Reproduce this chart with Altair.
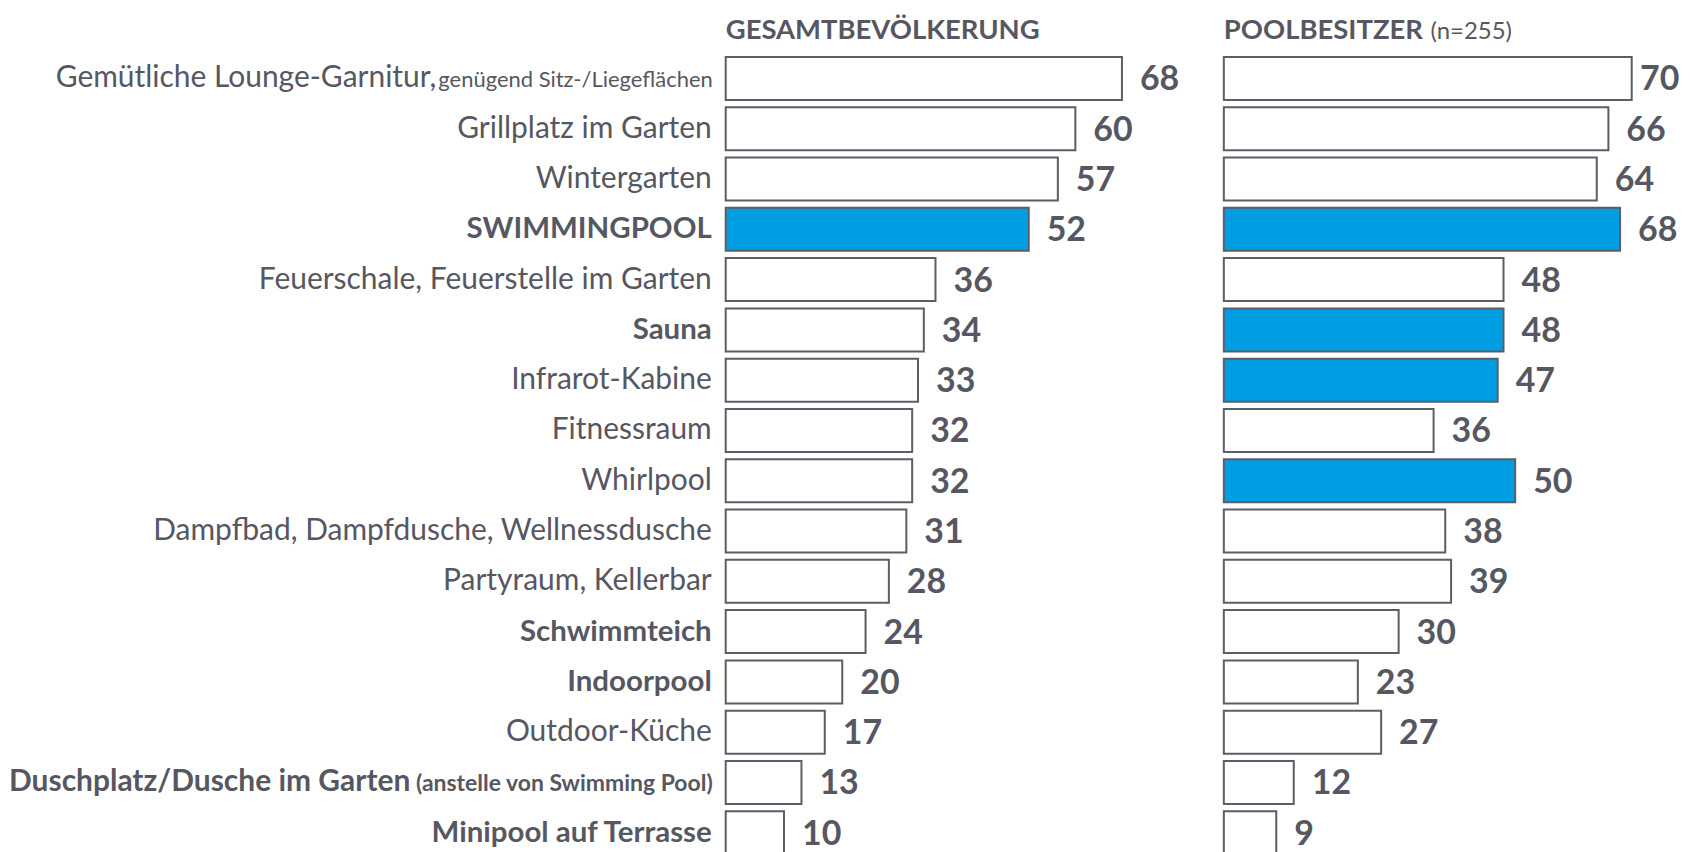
import altair as alt
import pandas as pd

# ---- data -------------------------------------------------------------
items = [
    "Gemütliche Lounge-Garnitur,",
    "Grillplatz im Garten",
    "Wintergarten",
    "SWIMMINGPOOL",
    "Feuerschale, Feuerstelle im Garten",
    "Sauna",
    "Infrarot-Kabine",
    "Fitnessraum\u2002",
    "Whirlpool",
    "Dampfbad, Dampfdusche, Wellnessdusche",
    "Partyraum, Kellerbar",
    "Schwimmteich",
    "Indoorpool",
    "Outdoor-Küche",
    "Duschplatz/Dusche im Garten",
    "Minipool auf Terrasse",
]
suffixes = ["genügend Sitz-/Liegeflächen", "", "", "", "", "", "", "", "", "", "", "", "", "",
            "(anstelle von Swimming Pool)", ""]
bold = [False, False, False, True, False, True, False, False, False, False, False, True, True,
        False, True, True]
gesamt = [68, 60, 57, 52, 36, 34, 33, 32, 32, 31, 28, 24, 20, 17, 13, 10]
poolbesitzer = [70, 66, 64, 68, 48, 48, 47, 36, 50, 38, 39, 30, 23, 27, 12, 9]
hl_gesamt = [False, False, False, True, False, False, False, False, False, False, False, False,
             False, False, False, False]
hl_pool = [False, False, False, True, False, True, True, False, True, False, False, False, False,
           False, False, False]
header_left = "GESAMTBEVÖLKERUNG"
header_right = "POOLBESITZER"
header_right_note = "(n=255)"

df = pd.DataFrame({
    "idx": list(range(len(items))),
    "label": items,
    "suffix": suffixes,
    "bold": bold,
    "gesamt": gesamt,
    "pool": poolbesitzer,
    "hl_g": hl_gesamt,
    "hl_p": hl_pool,
})

# ---- style ------------------------------------------------------------
FONT = "Lato"
TXT = "#575762"
STROKE = "#5d5d68"
BLUE = "#009fe3"
H = 806
LABW = 684
GAP = 32
SPX = 467 / 80  # pixels per percentage point
TOTAL_W = 1674
VAL_DX = 18
VAL_W = 42  # room kept for a two-digit value label

yenc = alt.Y("idx:O", axis=None,
             scale=alt.Scale(type="band", paddingInner=0.145, paddingOuter=0.0725,
                             align=1, round=False))

base = alt.Chart(df)

# ---- label column -----------------------------------------------------
LX = LABW + 18
lab_plain = base.transform_filter("datum.suffix == '' && !datum.bold").mark_text(
    align="right", baseline="middle", font=FONT, fontSize=30, color=TXT
).encode(y=yenc, text="label:N", x=alt.value(LX))
lab_bold = base.transform_filter("datum.suffix == '' && datum.bold").mark_text(
    align="right", baseline="middle", font=FONT, fontSize=29.5, fontWeight="bold", color=TXT
).encode(y=yenc, text="label:N", x=alt.value(LX))
suf_reg = base.transform_filter("datum.suffix != '' && !datum.bold").mark_text(
    align="right", baseline="middle", font=FONT, fontSize=22, color=TXT, dy=2
).encode(y=yenc, text="suffix:N", x=alt.value(LX + 1))
main_reg = base.transform_filter("datum.suffix != '' && !datum.bold").mark_text(
    align="right", baseline="middle", font=FONT, fontSize=30, color=TXT
).encode(y=yenc, text="label:N", x=alt.value(426))
suf_bold = base.transform_filter("datum.suffix != '' && datum.bold").mark_text(
    align="right", baseline="middle", font=FONT, fontSize=23, fontWeight="bold", color=TXT, dy=2
).encode(y=yenc, text="suffix:N", x=alt.value(LX + 1))
main_bold = base.transform_filter("datum.suffix != '' && datum.bold").mark_text(
    align="right", baseline="middle", font=FONT, fontSize=30, fontWeight="bold", color=TXT
).encode(y=yenc, text="label:N", x=alt.value(400))

labels = alt.layer(lab_plain, lab_bold, suf_reg, main_reg, suf_bold, main_bold).properties(
    width=LABW, height=H)


def panel(field, hl, header, width, note=None):
    xmax = width / SPX
    lim = (width - VAL_DX - VAL_W) / SPX
    xs = alt.Scale(domain=[0, xmax], nice=False, zero=True)
    bars = base.mark_bar(stroke=STROKE, strokeWidth=2).encode(
        y=yenc,
        x=alt.X(f"{field}:Q", scale=xs, axis=None),
        fill=alt.condition(f"datum.{hl}", alt.value(BLUE), alt.value("white")),
    )
    vals = base.transform_calculate(lx=f"min(datum.{field}, {lim})").mark_text(
        align="left", baseline="middle", font=FONT, fontSize=34,
        fontWeight="bold", color=TXT, dx=VAL_DX, dy=2).encode(
        y=yenc, x=alt.X("lx:Q", scale=xs), text=f"{field}:Q")
    head = alt.Chart(pd.DataFrame({"t": [header]})).mark_text(
        align="left", baseline="top", font=FONT, fontSize=27.5, fontWeight="bold", color=TXT
    ).encode(text="t:N", x=alt.value(0), y=alt.value(-33))
    layers = [bars, vals, head]
    if note:
        n = alt.Chart(pd.DataFrame({"t": [note]})).mark_text(
            align="left", baseline="top", font=FONT, fontSize=24, color=TXT
        ).encode(text="t:N", x=alt.value(207), y=alt.value(-30))
        layers.append(n)
    return alt.layer(*layers).properties(width=width, height=H)


W_LEFT = 467
W_RIGHT = TOTAL_W - LABW - GAP - W_LEFT - GAP
left = panel("gesamt", "hl_g", header_left, W_LEFT)
right = panel("pool", "hl_p", header_right, W_RIGHT, header_right_note)

chart = alt.hconcat(labels, left, right, spacing=GAP, bounds="flush").properties(
    padding={"left": 0, "top": 8, "right": 0, "bottom": 0}, background="white"
).resolve_scale(y="independent").configure_view(stroke=None)

chart.save("out.html", embed_options={"renderer": "svg", "actions": False})
